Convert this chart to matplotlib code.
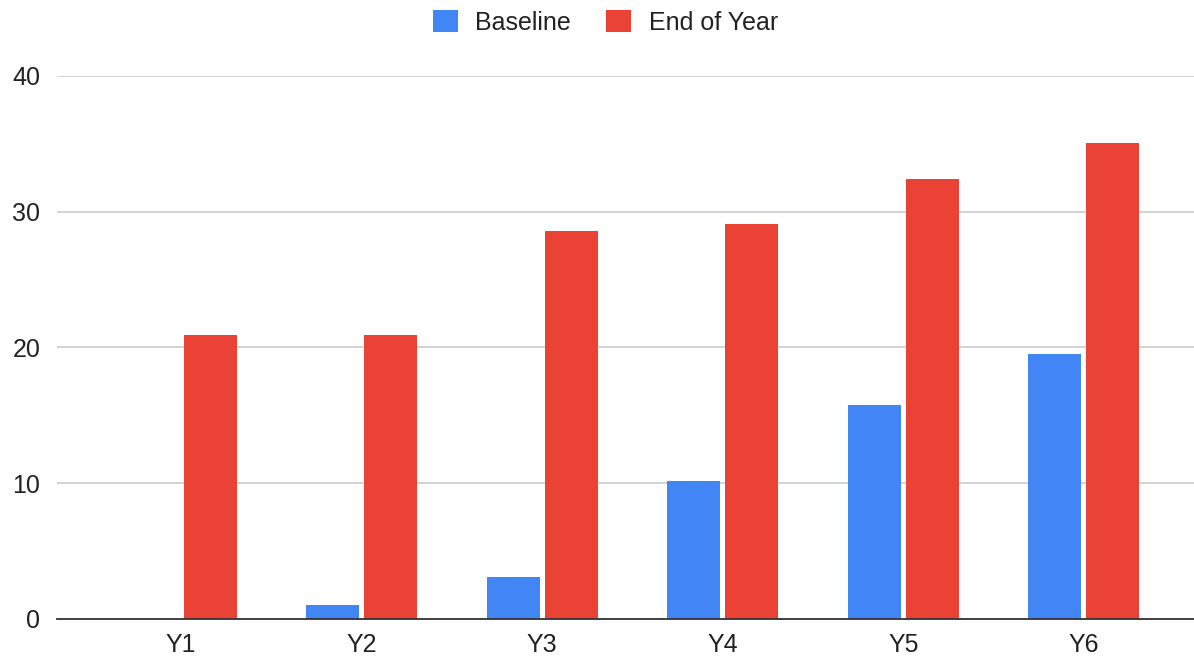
import matplotlib.pyplot as plt
import numpy as np
from matplotlib.patches import Patch

categories = ["Y1", "Y2", "Y3", "Y4", "Y5", "Y6"]
baseline = [0, 1.0, 3.1, 10.2, 15.8, 19.5]
end_of_year = [20.9, 20.9, 28.6, 29.1, 32.4, 35.1]
series_names = ["Baseline", "End of Year"]
yticks = [0, 10, 20, 30, 40]

BLUE = "#4285F4"
RED = "#EA4335"

plt.rcParams["font.family"] = ["Liberation Sans", "DejaVu Sans"]

fig = plt.figure(figsize=(11.94, 6.59), dpi=100)
ax = fig.add_axes([0.0477, 0.0607, 0.9523, 0.824])

x = np.arange(len(categories))
w = 0.293
off = 0.161
ax.bar(x - off, baseline, width=w, color=BLUE, zorder=3)
ax.bar(x + off, end_of_year, width=w, color=RED, zorder=3)

ax.set_xlim(-0.687, 5.61)
ax.set_ylim(0, 40)
ax.set_yticks(yticks)
ax.set_xticks(x)
ax.set_xticklabels(categories)
ax.tick_params(axis="both", length=0, labelsize=18, colors="#222222")
ax.tick_params(axis="y", pad=12)
ax.tick_params(axis="x", pad=10)

ax.grid(axis="y", color="#cccccc", linewidth=1.2, zorder=0)
for s in ["top", "right", "left"]:
    ax.spines[s].set_visible(False)
ax.spines["bottom"].set_color("#333333")
ax.spines["bottom"].set_linewidth(1.3)
ax.spines["bottom"].set_zorder(4)

handles = [Patch(facecolor=BLUE, edgecolor="none"), Patch(facecolor=RED, edgecolor="none")]
fig.legend(handles, series_names, loc="center", bbox_to_anchor=(0.507, 0.966),
           ncol=2, frameon=False, fontsize=18, handlelength=1.0, handleheight=1.0,
           handletextpad=0.7, columnspacing=1.4, labelcolor="#222222")

fig.savefig("out.png", dpi=100, facecolor="white")
